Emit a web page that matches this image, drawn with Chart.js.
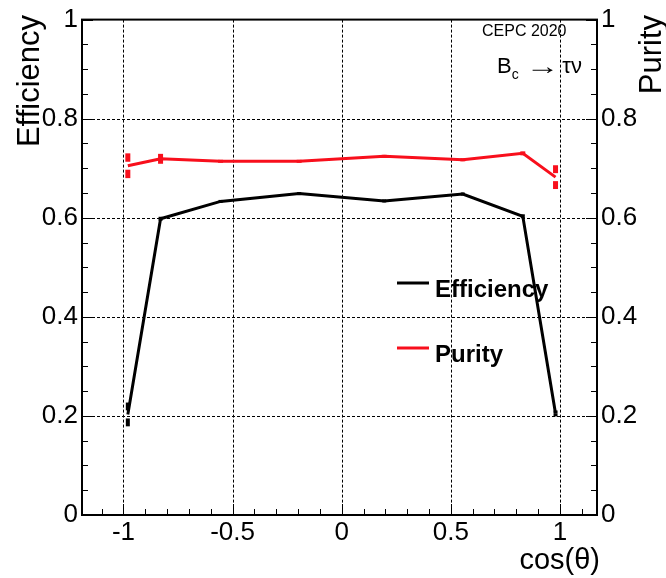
<!DOCTYPE html>
<html>
<head>
<meta charset="utf-8">
<script src="https://cdn.jsdelivr.net/npm/chart.js@4.4.1/dist/chart.umd.min.js"></script>
<style>
  body { margin: 0; background: #fff; }
  canvas { display: block; }
</style>
</head>
<body>
<canvas id="effChart" width="666" height="578"></canvas>
<script>
// values
const cosTheta   = [-0.98, -0.83, -0.555, -0.195, 0.195, 0.555, 0.83, 0.98];
const efficiency = [0.203, 0.598, 0.633, 0.649, 0.634, 0.648, 0.603, 0.205];
const effErr     = [0.024, 0.004, 0.003, 0.003, 0.003, 0.003, 0.004, 0.006];
const purity     = [0.705, 0.719, 0.714, 0.714, 0.724, 0.717, 0.730, 0.682];
const purErr     = [0.025, 0.010, 0.003, 0.003, 0.003, 0.003, 0.004, 0.024];

const xTicks = [-1, -0.5, 0, 0.5, 1];
const yTicks = [0, 0.2, 0.4, 0.6, 0.8, 1];

const FONT = "'Liberation Sans', Arial, sans-serif";
const RED = '#f80f1c';

function pts(xs, ys) {
  return xs.map((x, i) => ({ x: x, y: ys[i] }));
}

// grid, frame, tick marks, error bars and the text boxes
const rootStyle = {
  id: 'rootStyle',
  beforeDatasetsDraw(chart) {
    const ctx = chart.ctx, a = chart.chartArea;
    const sx = chart.scales.x, sy = chart.scales.y, sy2 = chart.scales.y2;
    ctx.save();
    ctx.strokeStyle = '#000';
    ctx.lineWidth = 1;
    ctx.setLineDash([3, 2]);
    xTicks.forEach(v => {
      const px = Math.round(sx.getPixelForValue(v)) + 0.5;
      ctx.beginPath(); ctx.moveTo(px, a.top); ctx.lineTo(px, a.bottom); ctx.stroke();
    });
    yTicks.slice(1, -1).forEach(v => {
      const py = Math.round(sy.getPixelForValue(v)) + 0.5;
      ctx.beginPath(); ctx.moveTo(a.left, py); ctx.lineTo(a.right, py); ctx.stroke();
    });
    ctx.setLineDash([]);

    // error bars, with a gap round the point like ROOT does
    function bars(ys, errs, scale, color, w) {
      ctx.fillStyle = color;
      cosTheta.forEach((x, i) => {
        const px = sx.getPixelForValue(x);
        const py = scale.getPixelForValue(ys[i]);
        const hi = scale.getPixelForValue(ys[i] + errs[i]);
        const lo = scale.getPixelForValue(ys[i] - errs[i]);
        const gap = (lo - hi) > 16 ? 4 : 0;
        ctx.fillRect(px - w / 2, hi, w, (py - gap) - hi);
        ctx.fillRect(px - w / 2, py + gap, w, lo - (py + gap));
      });
    }
    bars(efficiency, effErr, sy, '#000', 4);
    bars(purity, purErr, sy2, RED, 5);
    ctx.restore();
  },
  afterDatasetsDraw(chart) {
    const ctx = chart.ctx, a = chart.chartArea;
    const sx = chart.scales.x, sy = chart.scales.y;
    ctx.save();

    // tick marks
    ctx.strokeStyle = '#000';
    ctx.lineWidth = 1;
    ctx.beginPath();
    for (let k = -11; k <= 11; k++) {
      const v = k / 10;
      const px = Math.round(sx.getPixelForValue(v)) + 0.5;
      const len = (k % 5 === 0) ? 11 : 6;
      ctx.moveTo(px, a.bottom); ctx.lineTo(px, a.bottom - len);
    }
    for (let k = 0; k <= 20; k++) {
      const v = k / 20;
      const py = Math.round(sy.getPixelForValue(v)) + 0.5;
      const len = (k % 4 === 0) ? 11 : 6;
      ctx.moveTo(a.left, py); ctx.lineTo(a.left + len, py);
      ctx.moveTo(a.right, py); ctx.lineTo(a.right - len, py);
    }
    ctx.stroke();

    // frame
    ctx.lineWidth = 2;
    ctx.strokeRect(a.left, a.top, a.right - a.left, a.bottom - a.top);
    ctx.restore();
  },
  afterDraw(chart) {
    const ctx = chart.ctx;
    ctx.save();
    ctx.fillStyle = '#000';
    ctx.textBaseline = 'alphabetic';

    // axis titles
    ctx.font = '29px ' + FONT;
    ctx.textAlign = 'right';
    ctx.fillText('cos(\u03b8)', 600, 569);
    ctx.font = '31px ' + FONT;
    ctx.save();
    ctx.translate(39, 15);
    ctx.rotate(-Math.PI / 2);
    ctx.fillText('Efficiency', 0, 0);
    ctx.restore();
    ctx.save();
    ctx.translate(661, 15);
    ctx.rotate(-Math.PI / 2);
    ctx.fillText('Purity', 0, 0);
    ctx.restore();

    // labels in the corner
    ctx.textAlign = 'left';
    ctx.font = '16px ' + FONT;
    ctx.fillText('CEPC 2020', 482, 36);
    let x = 497;
    ctx.font = '22px ' + FONT;
    ctx.fillText('B', x, 73);
    x += ctx.measureText('B').width;
    ctx.font = '14px ' + FONT;
    ctx.fillText('c', x, 79);
    x += ctx.measureText('c').width + 7;
    ctx.font = '24px ' + FONT;
    ctx.save();
    ctx.translate(x, 74);
    ctx.scale(1.4, 1);
    ctx.fillText('\u2192', 0, 0);
    x += ctx.measureText('\u2192').width * 1.4 + 3;
    ctx.restore();
    ctx.font = '22px ' + FONT;
    ctx.fillText('\u03c4\u03bd', x, 73);

    // legend
    const ds = chart.data.datasets;
    const rows = [[283, 297], [348, 362]];
    ds.forEach((d, i) => {
      ctx.strokeStyle = d.borderColor;
      ctx.lineWidth = 3;
      ctx.beginPath();
      ctx.moveTo(397, rows[i][0]); ctx.lineTo(429, rows[i][0]);
      ctx.stroke();
      ctx.font = 'bold 24px ' + FONT;
      ctx.fillText(d.label, 435, rows[i][1]);
    });
    ctx.restore();
  }
};

const ctx = document.getElementById('effChart').getContext('2d');
const myChart = new Chart(ctx, {
  type: 'line',
  data: {
    datasets: [{
      label: 'Efficiency',
      data: pts(cosTheta, efficiency),
      borderColor: '#000',
      borderWidth: 3,
      pointRadius: 0,
      tension: 0,
      yAxisID: 'y'
    }, {
      label: 'Purity',
      data: pts(cosTheta, purity),
      borderColor: RED,
      borderWidth: 3,
      pointRadius: 0,
      tension: 0,
      yAxisID: 'y2'
    }]
  },
  options: {
    responsive: false,
    animation: false,
    maintainAspectRatio: false,
    layout: { padding: { left: 0, right: 0, top: 15, bottom: 0 } },
    plugins: { legend: { display: false }, tooltip: { enabled: false } },
    scales: {
      x: {
        type: 'linear',
        min: -1.19,
        max: 1.17,
        afterFit: s => { s.height = 63; },
        afterBuildTicks: s => { s.ticks = xTicks.map(v => ({ value: v })); },
        grid: { display: false, drawTicks: false },
        border: { display: false },
        ticks: { color: '#000', padding: 2, font: { family: FONT, size: 26 }, callback: v => String(v), maxRotation: 0 }
      },
      y: {
        position: 'left',
        min: 0,
        max: 1,
        afterFit: s => { s.width = 82; },
        afterBuildTicks: s => { s.ticks = yTicks.map(v => ({ value: v })); },
        grid: { display: false, drawTicks: false },
        border: { display: false },
        ticks: { color: '#000', padding: 4, font: { family: FONT, size: 26 }, callback: v => String(v) }
      },
      y2: {
        position: 'right',
        min: 0,
        max: 1,
        afterFit: s => { s.width = 69; },
        afterBuildTicks: s => { s.ticks = yTicks.map(v => ({ value: v })); },
        grid: { display: false, drawTicks: false },
        border: { display: false },
        ticks: { color: '#000', padding: 4, font: { family: FONT, size: 26 }, callback: v => String(v) }
      }
    }
  },
  plugins: [rootStyle]
});
</script>
</body>
</html>
